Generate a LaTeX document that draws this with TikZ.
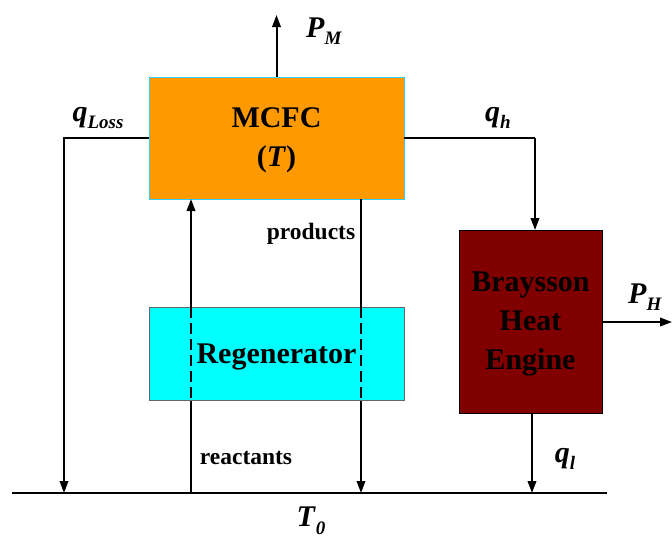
\documentclass[tikz,border=0pt]{standalone}
\usepackage{fontspec}
\setmainfont{Liberation Serif}
\usetikzlibrary{arrows.meta}
\definecolor{mcfcorange}{HTML}{FF9900}
\definecolor{regcyan}{HTML}{00FFFF}
\definecolor{braydark}{HTML}{800000}
\definecolor{mcfcedge}{HTML}{33CCFF}
\newcommand\qlab[2]{\textbf{\textit{#1}}\raisebox{-0.25em}{\fontsize{19}{19}\selectfont\textbf{\textit{#2}}}}
\begin{document}
\begin{tikzpicture}[x=1pt,y=-1pt,
  flow/.style={line width=2pt,-{Triangle[length=12pt,width=8.5pt]}},
  plain/.style={line width=2pt},
  dashseg/.style={line width=2pt,dash pattern=on 11pt off 5pt},
  bigtxt/.style={font=\fontsize{30}{39}\selectfont\bfseries,align=center},
  smalltxt/.style={font=\fontsize{23.5}{26}\selectfont\bfseries},
  mathtxt/.style={font=\fontsize{30}{30}\selectfont},
  boxstyle/.style={minimum width=#1, inner sep=0pt, outer sep=0pt}]
\useasboundingbox (0,0) rectangle (672,539);
% coordinates
\coordinate (gl) at (12,493);
\coordinate (gr) at (607,493);
\coordinate (lossend) at (64,493);
\coordinate (reacbot) at (191,493);
\coordinate (reactop) at (191,199);
\coordinate (prodtop) at (361,199);
\coordinate (prodbot) at (361,493);
\coordinate (pmend) at (276.5,15);
\coordinate (phend) at (672,322);
\coordinate (qhturn) at (535,138);
\coordinate (qhend) at (535,230);
\coordinate (qlstart) at (532,413);
\coordinate (qlend) at (532,493);
% boxes
\node[boxstyle=255pt, minimum height=122pt, fill=mcfcorange, draw=mcfcedge, line width=0.6pt] (mcfc) at (276.5,138) {};
\node[bigtxt] (mcfctxt) at (276.5,140) {MCFC\\(\textit{T})};
\node[boxstyle=143pt, minimum height=183pt, fill=braydark, draw=black, line width=0.8pt] (bray) at (530.5,321.5) {};
\node[bigtxt, text=black] (braytxt) at (530.5,324) {Braysson\\Heat\\Engine};
% ground line
\draw[line width=2.4pt] (gl) -- (gr);
% vertical flows
\draw[flow] (reacbot) -- (reactop);
\draw[flow] (prodtop) -- (prodbot);
% regenerator drawn over the flows
\node[boxstyle=255pt, minimum height=93pt, fill=regcyan, draw=black!60, line width=0.6pt] (regen) at (276.5,353.5) {};
\draw[dashseg] (191,307) -- (191,400);
\draw[dashseg] (361,307) -- (361,400);
\node[bigtxt] (regtxt) at (276.5,357) {Regenerator};
% heat flows
\draw[flow] (mcfc.west) -| (lossend);
\draw[plain] (mcfc.east) -- (qhturn);
\draw[flow] (qhturn) -- (qhend);
\draw[flow] (qlstart) -- (qlend);
\draw[flow] (mcfc.north) -- (pmend);
\draw[flow] (bray.east |- phend) -- (phend);
% labels
\node[mathtxt] (pm) at (324,31) {\qlab{P}{M}};
\node[mathtxt] (qloss) at (98,118) {\qlab{q}{Loss}};
\node[mathtxt] (qh) at (498,118) {\qlab{q}{h}};
\node[mathtxt] (ph) at (645,297) {\qlab{P}{H}};
\node[mathtxt] (ql) at (565,459) {\qlab{q}{l}};
\node[mathtxt] (t0) at (311,521) {\qlab{T}{0}};
\node[smalltxt] (prod) at (311,234) {products};
\node[smalltxt] (reac) at (246,458) {reactants};
\end{tikzpicture}
\end{document}
